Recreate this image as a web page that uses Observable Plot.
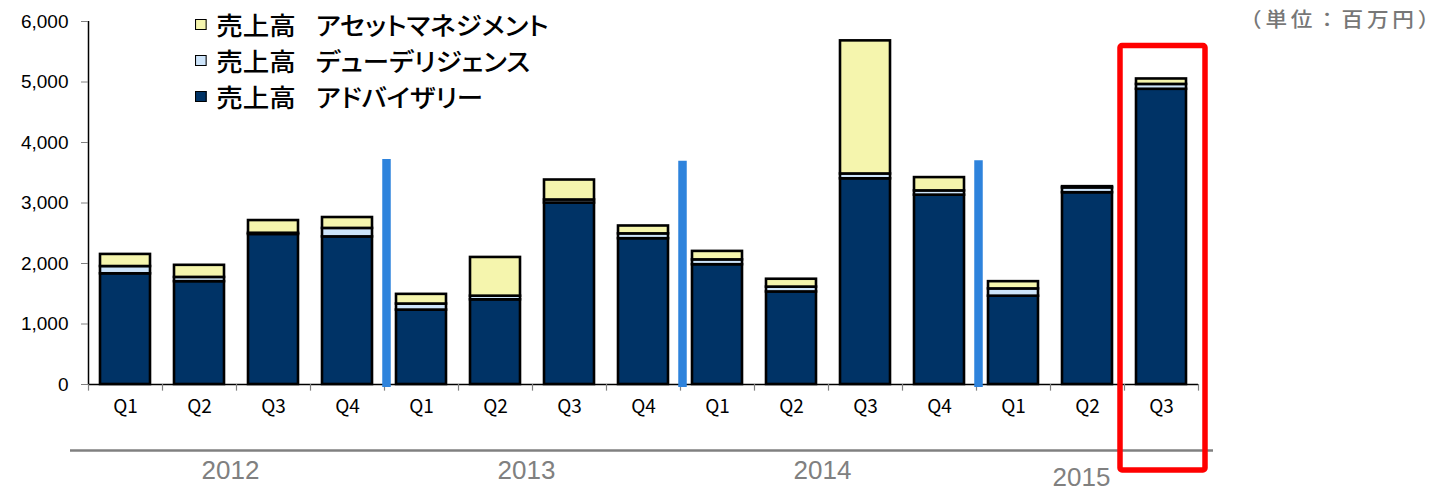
<!DOCTYPE html>
<html><head><meta charset="utf-8">
<script src="https://cdn.jsdelivr.net/npm/d3@7"></script>
<script src="https://cdn.jsdelivr.net/npm/@observablehq/plot@0.6"></script>
<style>
body{margin:0;background:#fff;}
#wrap{position:relative;width:1450px;height:491px;overflow:hidden;background:#fff;}
#wrap svg{position:absolute;left:0;top:0;overflow:visible;}
#legend{position:absolute;left:195px;top:6px;font-family:"Noto Sans CJK JP";font-size:25px;font-weight:500;color:#000;
  font-feature-settings:"palt";transform:scaleX(1.06);transform-origin:0 0;}
#legend .row{height:36px;line-height:36px;display:flex;align-items:center;white-space:nowrap;}
#legend .sw{width:9px;height:9px;border:1.8px solid #000;display:inline-block;margin-right:9px;}
#legend .gap{display:inline-block;width:19px;}
#unit{position:absolute;left:1240px;top:4px;font-family:"Noto Sans CJK JP";font-size:20px;font-weight:500;color:#777;
  letter-spacing:3.5px;transform:scaleX(1.08);transform-origin:0 0;white-space:nowrap;}
</style></head><body>
<div id="wrap"></div>
<script>
const years    = ["2012","2012","2012","2012","2013","2013","2013","2013","2014","2014","2014","2014","2015","2015","2015"];
const quarters = ["Q1","Q2","Q3","Q4","Q1","Q2","Q3","Q4","Q1","Q2","Q3","Q4","Q1","Q2","Q3"];
const advisory     = [1830,1700,2480,2440,1230,1400,3000,2410,1980,1530,3400,3130,1460,3170,4880];
const dueDiligence = [120,  70,  20, 140, 100,  60,  50,  80,  80,  80,  80,  70, 120,  80,  80];
const assetMgmt    = [200, 200, 210, 180, 160, 640, 330, 130, 140, 130,2200, 220, 120,  20,  90];
const seriesNames  = ["売上高　アドバイザリー","売上高　デューデリジェンス","売上高　アセットマネジメント"];
const legendOrder  = ["売上高　アセットマネジメント","売上高　デューデリジェンス","売上高　アドバイザリー"];
const seriesColors = ["#003366","#cde4fa","#f5f5ad"];
const yTicks       = [0,1000,2000,3000,4000,5000,6000];
const yearLabels   = ["2012","2013","2014","2015"];
const separatorAt  = ["2013 Q1","2014 Q1","2015 Q1"];
const separatorTop = [3720,3690,3700];
const highlighted  = "2015 Q3";
const unitLabel    = "（単位：百万円）";

const periods = years.map((y,i)=> y + " " + quarters[i]);
const seriesValues = [advisory, dueDiligence, assetMgmt];
const rows = [];
periods.forEach((p,i)=> seriesNames.forEach((s,k)=> rows.push({period:p, series:s, value:seriesValues[k][i]})));

const W = 1450, H = 491, mL = 88, mR = 252, mT = 21, mB = 107;
const step = (W - mL - mR) / periods.length;
const yearInfo = yearLabels.map(y => ({year:y, first: periods[years.indexOf(y)], n: years.filter(v=>v===y).length}));
const fullYears = yearInfo.filter(d=>d.n===4), partYears = yearInfo.filter(d=>d.n!==4);
const sepRows = separatorAt.map((p,i)=>({period:p, top:separatorTop[i]}));

const chart = Plot.plot({
  width: W, height: H, marginLeft: mL, marginRight: mR, marginTop: mT, marginBottom: mB,
  x: {domain: periods, paddingInner: 0.324, paddingOuter: 0.162, axis: null},
  y: {domain: [0, 6000], axis: null},
  color: {domain: seriesNames, range: seriesColors},
  style: {fontFamily: "'Liberation Sans', Arial, sans-serif", background: "transparent", overflow: "visible"},
  marks: [
    Plot.barY(rows, {x: "period", y: "value", fill: "series", order: seriesNames, stroke: "#000", strokeWidth: 2.6}),
    Plot.ruleY([0], {stroke: "#000", strokeWidth: 1.5}),
    Plot.ruleX([periods[0]], {x: d=>d, dx: -step/2, y1: 0, y2: 6000, stroke: "#000", strokeWidth: 1.5}),
    Plot.ruleX(periods, {x: d=>d, dx: -step/2, y1: 0, y2: -110, stroke: "#808080", strokeWidth: 1.2}),
    Plot.ruleX([periods[periods.length-1]], {x: d=>d, dx: step/2, y1: 0, y2: -110, stroke: "#808080", strokeWidth: 1.2}),
    Plot.axisY({ticks: yTicks, tickFormat: d3.format(","), tickSize: 7, tickPadding: 13, fontSize: 19, color: "#000", stroke: "#808080"}),
    Plot.text(periods, {x: d=>d, text: (d,i)=>quarters[i], frameAnchor: "bottom", dy: 28, fontSize: 19, fontFamily: "'Noto Sans CJK JP'", fill: "#000"}),
    Plot.ruleX(sepRows, {x: "period", dx: -35, y1: -50, y2: "top", stroke: "#2e83dc", strokeWidth: 8.5}),
    Plot.ruleY([0], {dy: 66, stroke: "#808080", strokeWidth: 2.5, insetLeft: -18, insetRight: -15}),
    Plot.text(fullYears, {x: "first", text: "year", frameAnchor: "bottom", dx: 1.5*step - 6, dy: 94, fontSize: 26, fill: "#808080"}),
    Plot.text(partYears, {x: "first", text: "year", frameAnchor: "bottom", dx: step - 6, dy: 101, fontSize: 26, fill: "#808080"}),
    Plot.barY([highlighted], {x: d=>d, y1: 5595, y2: -1421, fill: "none", stroke: "#ff0000", strokeWidth: 5.5, insetLeft: -16, insetRight: -19, rx: 2})
  ]
});
const wrap = document.getElementById("wrap");
wrap.appendChild(chart);

const legend = document.createElement("div");
legend.id = "legend";
legendOrder.forEach(name => {
  const [a, b] = name.split("　");
  const row = document.createElement("div"); row.className = "row";
  const sw = document.createElement("span"); sw.className = "sw";
  sw.style.background = seriesColors[seriesNames.indexOf(name)];
  row.appendChild(sw);
  const t1 = document.createElement("span"); t1.textContent = a; row.appendChild(t1);
  const g = document.createElement("span"); g.className = "gap"; row.appendChild(g);
  const t2 = document.createElement("span"); t2.textContent = b; row.appendChild(t2);
  legend.appendChild(row);
});
wrap.appendChild(legend);
const unit = document.createElement("div"); unit.id = "unit"; unit.textContent = unitLabel;
wrap.appendChild(unit);
</script>
</body></html>
